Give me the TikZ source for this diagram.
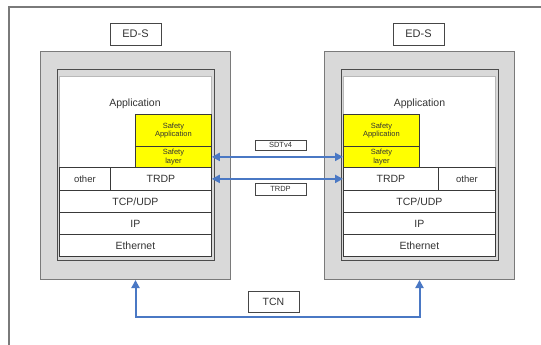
\documentclass[tikz,border=0pt]{standalone}
\usepackage{fontspec}
\setmainfont{Liberation Sans}
\usetikzlibrary{arrows.meta}
\definecolor{linkblue}{HTML}{4A78C4}
\definecolor{safetyyellow}{HTML}{FFFF00}
\definecolor{framegray}{HTML}{7A7A7A}
\definecolor{housing}{HTML}{D9D9D9}
\tikzset{
  housingbox/.style={draw=framegray, fill=housing, line width=1pt, inner sep=0pt},
  stackframe/.style={draw=gray!60!black, fill=gray!30, line width=0.9pt, inner sep=0pt},
  stackbg/.style={draw=gray!55, fill=white, line width=0.5pt, inner sep=0pt},
  cell/.style={draw=gray!45!black, fill=white, line width=0.8pt, inner sep=0pt,
    anchor=north west, font=\fontsize{10.5}{12}\selectfont, text=black!80},
  safecell/.style={cell, fill=safetyyellow, font=\fontsize{7.5}{8.5}\selectfont, align=center},
  tagbox/.style={draw=gray!55!black, fill=white, line width=0.8pt, inner sep=0pt,
    font=\fontsize{10.5}{12}\selectfont, text=black!80},
  smalltag/.style={tagbox, font=\fontsize{7.5}{8.5}\selectfont},
  link/.style={draw=linkblue, line width=2pt, {Triangle[length=8pt,width=8pt]}-{Triangle[length=8pt,width=8pt]}},
}
\begin{document}
\begin{tikzpicture}[x=1pt,y=-1pt]
  \useasboundingbox (0,0) rectangle (541,345);
  \fill[white] (0,0) rectangle (541,345);
  % surrounding frame, open to the right and bottom
  \draw[framegray, line width=1.3pt] (9,345) -- (9,7) -- (541,7);

  % ---------- left device ----------
  \node[tagbox, minimum width=51pt, minimum height=22pt, font=\fontsize{11}{12}\selectfont] (edsL) at (135.5,34) {ED-S};
  \node[housingbox, anchor=north west, minimum width=190pt, minimum height=228pt] (devL) at (40,51) {};
  \node[stackframe, anchor=north west, minimum width=157pt, minimum height=191pt] (frL) at (57,69) {};
  \node[stackbg, anchor=north west, minimum width=152pt, minimum height=91pt] (bgL) at (59,76) {};
  \node[font=\fontsize{10.5}{12}\selectfont, text=black!80] (appL) at (135,104) {Application};
  \node[safecell, minimum width=76pt, minimum height=32pt] (saL) at (135,114) {Safety\\Application};
  \node[safecell, minimum width=76pt, minimum height=21pt] (slL) at (135,146) {Safety\\layer};
  \node[cell, minimum width=51pt, minimum height=23pt, font=\fontsize{9.5}{11}\selectfont] (otL) at (59,167) {other};
  \node[cell, minimum width=101pt, minimum height=23pt] (trL) at (110,167) {TRDP};
  \node[cell, minimum width=152pt, minimum height=22pt] (tcL) at (59,190) {TCP/UDP};
  \node[cell, minimum width=152pt, minimum height=22pt] (ipL) at (59,212) {IP};
  \node[cell, minimum width=152pt, minimum height=22pt] (etL) at (59,234) {Ethernet};

  % ---------- right device ----------
  \node[tagbox, minimum width=51pt, minimum height=22pt, font=\fontsize{11}{12}\selectfont] (edsR) at (418.5,34) {ED-S};
  \node[housingbox, anchor=north west, minimum width=190pt, minimum height=228pt] (devR) at (324,51) {};
  \node[stackframe, anchor=north west, minimum width=157pt, minimum height=191pt] (frR) at (341,69) {};
  \node[stackbg, anchor=north west, minimum width=152pt, minimum height=91pt] (bgR) at (343,76) {};
  \node[font=\fontsize{10.5}{12}\selectfont, text=black!80] (appR) at (419.5,104) {Application};
  \node[safecell, minimum width=76pt, minimum height=32pt] (saR) at (343,114) {Safety\\Application};
  \node[safecell, minimum width=76pt, minimum height=21pt] (slR) at (343,146) {Safety\\layer};
  \node[cell, minimum width=95pt, minimum height=23pt] (trR) at (343,167) {TRDP};
  \node[cell, minimum width=57pt, minimum height=23pt, font=\fontsize{9.5}{11}\selectfont] (otR) at (438,167) {other};
  \node[cell, minimum width=152pt, minimum height=22pt] (tcR) at (343,190) {TCP/UDP};
  \node[cell, minimum width=152pt, minimum height=22pt] (ipR) at (343,212) {IP};
  \node[cell, minimum width=152pt, minimum height=22pt] (etR) at (343,234) {Ethernet};

  % ---------- links ----------
  \node[smalltag, minimum width=51pt, minimum height=10pt] (sdt) at (280.5,145) {SDTv4};
  \node[smalltag, minimum width=51pt, minimum height=12pt] (trdp) at (280.5,189) {TRDP};
  \node[tagbox, minimum width=51pt, minimum height=21pt, font=\fontsize{10.5}{12}\selectfont] (tcn) at (273.5,301.5) {TCN};

  \draw[link] (slL.east) -- (slR.west);
  \draw[link] (trL.east) -- (trR.west);

  \coordinate (busL) at (devL.south |- 0,317);
  \coordinate (busR) at (devR.south |- 0,317);
  \draw[link] (devL.south) -- (busL) -- (busR) -- (devR.south);
\end{tikzpicture}
\end{document}
